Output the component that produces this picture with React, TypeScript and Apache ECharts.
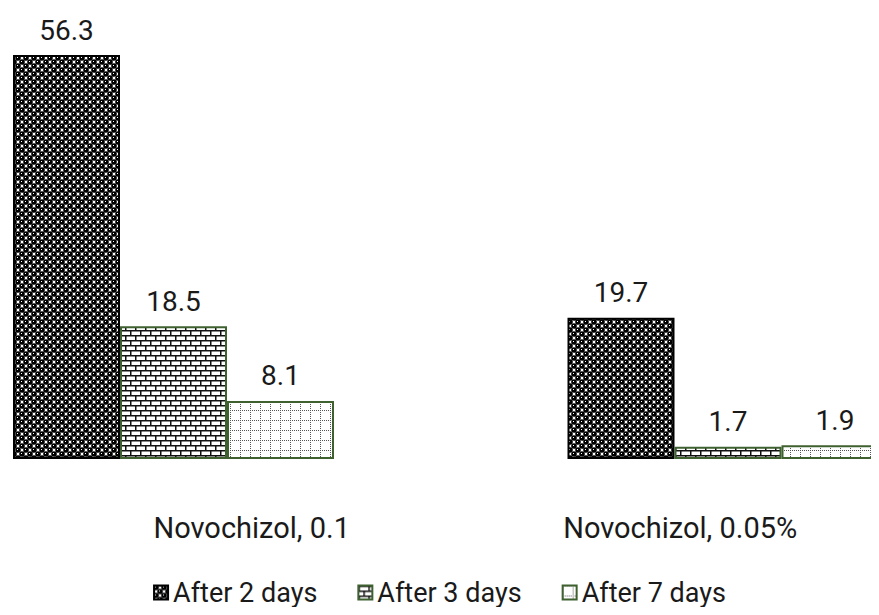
import React, { useEffect, useRef } from "react";
import * as echarts from "echarts";

const categories = ["Novochizol, 0.1", "Novochizol, 0.05%"];
const seriesNames = ["After 2 days", "After 3 days", "After 7 days"];
const after2 = [56.3, 19.7];
const after3 = [18.5, 1.7];
const after7 = [8.1, 1.9];

function makeCanvas(w: number, h: number, draw: (c: CanvasRenderingContext2D) => void) {
  const cv = document.createElement("canvas");
  cv.width = w;
  cv.height = h;
  const ctx = cv.getContext("2d")!;
  draw(ctx);
  return cv;
}

function spherePattern() {
  return makeCanvas(8, 8, (c) => {
    c.fillStyle = "#ffffff";
    c.fillRect(0, 0, 8, 8);
    c.fillStyle = "#000000";
    const pts = [
      [2, 2],
      [6, 6],
      [6, -2],
      [-2, 6],
      [10, 6],
      [6, 10],
      [-2, -2],
      [10, 10],
      [2, 10],
      [10, 2],
      [-2, 2],
      [2, -2],
    ];
    for (const [x, y] of pts) {
      c.beginPath();
      c.arc(x, y, 2.8, 0, Math.PI * 2);
      c.fill();
    }
    c.fillStyle = "#ffffff";
    c.fillRect(1, 1, 1, 1);
    c.fillRect(5, 5, 1, 1);
  });
}

function brickPattern() {
  return makeCanvas(10, 10, (c) => {
    c.fillStyle = "#ffffff";
    c.fillRect(0, 0, 10, 10);
    c.fillStyle = "#111111";
    c.fillRect(0, 0, 10, 1.5);
    c.fillRect(0, 5, 10, 1.5);
    c.fillRect(0, 0, 1.5, 5);
    c.fillRect(5, 5, 1.5, 5);
  });
}

function dottedGridPattern() {
  return makeCanvas(10, 10, (c) => {
    c.fillStyle = "#ffffff";
    c.fillRect(0, 0, 10, 10);
    c.fillStyle = "#555555";
    for (let i = 0; i < 10; i += 2) {
      c.fillRect(i, 0, 1, 1);
      c.fillRect(0, i, 1, 1);
    }
  });
}

export default function App() {
  const ref = useRef<HTMLDivElement>(null);
  useEffect(() => {
    if (!ref.current) return;
    const chart = echarts.init(ref.current, null, { renderer: "svg" });
    const font = "Roboto";
    const ink = "#1a1a1a";
    const patterns = [spherePattern(), brickPattern(), dottedGridPattern()];
    const borders = ["#000000", "#3f6130", "#3f6130"];
    const data = [after2, after3, after7];
    // value x axis: category i sits at x = i; 554.5 px per unit, category 0 at 173.5 px
    const pxPerUnit = 554.5;
    const xMin = -173.5 / pxPerUnit;
    const xMax = xMin + 879 / pxPerUnit;
    chart.setOption({
      animation: false,
      backgroundColor: "#ffffff",
      textStyle: { fontFamily: font },
      grid: { left: 0, right: 0, top: 28.5, bottom: 156, containLabel: false },
      legend: {
        bottom: 4,
        left: "center",
        itemWidth: 14,
        itemHeight: 14,
        itemGap: 40,
        icon: "rect",
        textStyle: { fontFamily: font, fontSize: 27, color: ink },
        data: seriesNames,
      },
      xAxis: [
        {
          type: "category",
          data: categories,
          axisLine: { show: false },
          axisTick: { show: false },
          axisLabel: {
            margin: 54,
            fontFamily: font,
            fontSize: 29,
            color: ink,
            formatter: (v: string, i: number) => (i === 0 ? `{a|${v}}` : `{b|${v}}`),
            rich: {
              a: { fontFamily: font, fontSize: 29, color: ink, padding: [0, 0, 0, 64] },
              b: { fontFamily: font, fontSize: 29, color: ink, padding: [0, 0, 0, 42] },
            },
          },
        },
        {
          type: "value",
          min: xMin,
          max: xMax,
          show: false,
          splitLine: { show: false },
        },
      ],
      yAxis: {
        type: "value",
        min: 0,
        max: 60,
        show: false,
        splitLine: { show: false },
      },
      series: seriesNames.map((name, i) => ({
        name,
        type: "bar",
        xAxisIndex: 1,
        barWidth: 107,
        barGap: "0%",
        data: data[i].map((v, j) => [j, v]),
        itemStyle: {
          color: { image: patterns[i], repeat: "repeat" },
          borderColor: borders[i],
          borderWidth: 2,
        },
        label: {
          show: true,
          position: "top",
          distance: 11,
          fontFamily: font,
          fontSize: 28,
          color: ink,
          formatter: (p: any) => String(p.value[1]),
        },
      })),
    });
    return () => chart.dispose();
  }, []);
  return <div ref={ref} style={{ width: 879, height: 615, margin: -8 }} />;
}
